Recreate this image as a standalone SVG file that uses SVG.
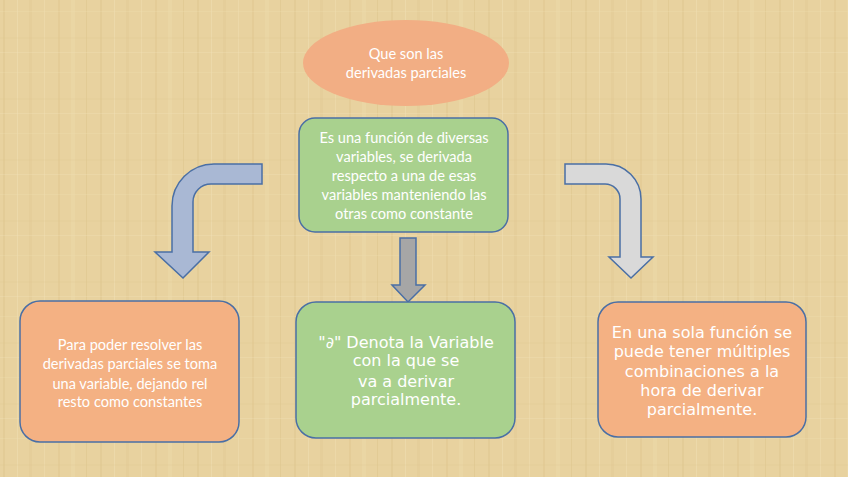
<svg xmlns="http://www.w3.org/2000/svg" width="848" height="477" viewBox="0 0 848 477">
<style>
.c{font-family:Lato,"Open Sans","Liberation Sans",sans-serif;font-size:14.6px;fill:#ffffff;text-anchor:middle}
.v{font-family:"DejaVu Sans",Verdana,sans-serif;font-size:16px;fill:#ffffff;text-anchor:middle}
.box{stroke:#4A6FA5;stroke-width:1.5}
.g{fill:#A9D18E}
.o{fill:#F4B183}
.arr{stroke:#4A6FA5;stroke-width:1.5;stroke-linejoin:miter}
</style>
<defs>
<pattern id="pap" width="97" height="61" patternUnits="userSpaceOnUse">
<rect width="97" height="61" fill="#E8D29F"/>
<rect x="3" y="0" width="2" height="61" fill="#D9BE84" opacity="0.3"/>
<rect x="17" y="0" width="1" height="61" fill="#F3E2B8" opacity="0.45"/>
<rect x="29" y="0" width="3" height="61" fill="#DCC28A" opacity="0.25"/>
<rect x="44" y="0" width="1" height="61" fill="#F2E0B4" opacity="0.45"/>
<rect x="58" y="0" width="2" height="61" fill="#D8BC80" opacity="0.25"/>
<rect x="71" y="0" width="4" height="61" fill="#F1DFB2" opacity="0.3"/>
<rect x="86" y="0" width="1" height="61" fill="#D6BA7E" opacity="0.3"/>
<rect x="0" y="11" width="97" height="1" fill="#F1DEB0" opacity="0.3"/>
<rect x="0" y="37" width="97" height="2" fill="#DCC28A" opacity="0.15"/>
<rect x="0" y="52" width="97" height="1" fill="#F3E3BA" opacity="0.3"/>
</pattern>
</defs>
<rect width="848" height="477" fill="url(#pap)"/>

<g id="connectors">
<path class="arr" fill="#A9B8D4" d="M262,164 L214,164 A42,42 0 0 0 172,206 L172,252 L155,252 L183,278 L209,252 L193,252 L193,202 A18,18 0 0 1 211,184 L262,184 Z"/>
<path class="arr" fill="#A6A6A6" d="M400,238 L416,238 L416,285 L425,285 L408,302 L392,285 L400,285 Z"/>
<path class="arr" fill="#D9D9D9" d="M565,164 L606,164 A35,35 0 0 1 641,199 L641,257 L653,257 L631,278 L609,257 L620,257 L620,199 A15,15 0 0 0 605,184 L565,184 Z"/>
</g>

<g id="title">
<ellipse cx="406" cy="63" rx="103" ry="43" fill="#F2AE84"/>
<text class="c" x="406" y="59">Que son las</text>
<text class="c" x="406" y="78">derivadas parciales</text>
</g>

<g id="definicion">
<rect class="box g" x="299" y="118" width="209" height="114" rx="16"/>
<text class="c" x="404" y="142.5">Es una función de diversas</text>
<text class="c" x="404" y="161.5">variables,  se derivada</text>
<text class="c" x="404" y="180.5">respecto a una de esas</text>
<text class="c" x="404" y="200">variables manteniendo las</text>
<text class="c" x="404" y="219">otras como constante</text>
</g>

<g id="resolver">
<rect class="box o" x="20" y="301" width="219" height="141" rx="20"/>
<text class="c" x="130" y="349.5">Para poder resolver las</text>
<text class="c" x="130" y="369">derivadas parciales se toma</text>
<text class="c" x="130" y="388.5">una variable, dejando rel</text>
<text class="c" x="130" y="406.5">resto como constantes</text>
</g>

<g id="denota">
<rect class="box g" x="296" y="302" width="219" height="136" rx="20"/>
<text class="v" x="406" y="348">"∂" Denota la Variable</text>
<text class="v" x="406" y="365.5">con la que se</text>
<text class="v" x="406" y="386.5">va a derivar</text>
<text class="v" x="406" y="404.5">parcialmente.</text>
</g>

<g id="combinaciones">
<rect class="box o" x="598" y="302" width="208" height="135" rx="20"/>
<text class="v" x="702" y="337.5">En una sola función se</text>
<text class="v" x="702" y="357">puede tener múltiples</text>
<text class="v" x="702" y="376.5">combinaciones a la</text>
<text class="v" x="702" y="396">hora de derivar</text>
<text class="v" x="702" y="414.5">parcialmente.</text>
</g>
</svg>
